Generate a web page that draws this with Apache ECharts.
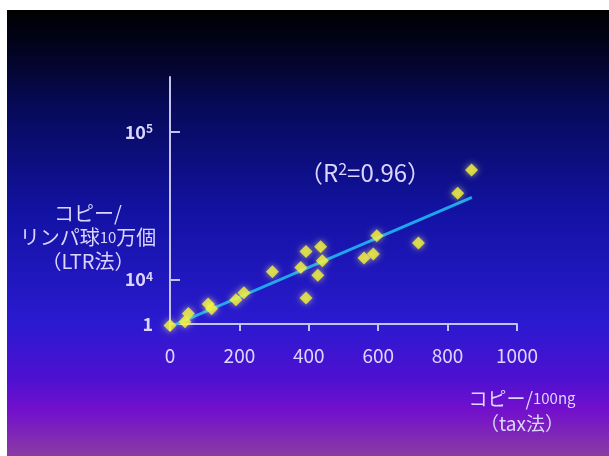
<!DOCTYPE html>
<html>
<head>
<meta charset="utf-8">
<script src="https://cdn.jsdelivr.net/npm/echarts@6/dist/echarts.min.js"></script>
<style>
  html, body { margin: 0; padding: 0; background: #fff; }
  #chart { width: 609px; height: 456px; }
</style>
</head>
<body>
<div id="chart"></div>
<script>
// tax copies / 100ng
var taxCopies = [0, 43, 53, 110, 120, 190, 213, 295, 377, 392, 392, 426, 434, 439, 559, 586, 596, 716, 829, 869];
// LTR copies / 100,000 lymphocytes
var ltrCopies = [4900, 5200, 5900, 6850, 6350, 7300, 8150, 11300, 12100, 15500, 7500, 10700, 16700, 13400, 14000, 14900, 19800, 17700, 38300, 55100];
// regression line end points
var fitX = [0, 870];
var fitY = [4800, 36000];
// y axis ticks (log10 units) and their labels
var yTickLogs = [3.7, 4, 5];
var yTickTexts = ['1', '10{s|4}', '10{s|5}'];
var xTicks = [0, 200, 400, 600, 800, 1000];

var textColor = '#dcd6ff';
var axisColor = '#c6c2f0';
var font = '"Noto Sans CJK JP", "Noto Sans", sans-serif';

var chart = echarts.init(document.getElementById('chart'));

var points = taxCopies.map(function (x, i) {
    return [x, Math.log10(ltrCopies[i])];
});
var fitLine = fitX.map(function (x, i) {
    return [x, Math.log10(fitY[i])];
});

var option = {
    backgroundColor: '#ffffff',
    animation: false,
    graphic: [
        {
            type: 'rect',
            z: -100,
            shape: { x: 7, y: 10, width: 602, height: 446 },
            style: {
                fill: new echarts.graphic.LinearGradient(0, 0, 0, 1, [
                    { offset: 0, color: '#000000' },
                    { offset: 0.1, color: '#030425' },
                    { offset: 0.22, color: '#070a5a' },
                    { offset: 0.45, color: '#1212a2' },
                    { offset: 0.7, color: '#2a1ad0' },
                    { offset: 0.83, color: '#5010d0' },
                    { offset: 0.9, color: '#7410cc' },
                    { offset: 1, color: '#8a3ca2' }
                ])
            }
        },
        {
            type: 'text',
            x: 365,
            y: 173,
            style: {
                text: '（R{s|2}=0.96）',
                fill: textColor,
                font: '24px ' + font,
                align: 'center',
                verticalAlign: 'middle',
                rich: {
                    s: { fontSize: 16, verticalAlign: 'top', lineHeight: 16, fill: textColor, fontFamily: 'Noto Sans CJK JP' }
                }
            }
        },
        {
            type: 'text',
            x: 88,
            y: 201,
            style: {
                text: 'コピー/\nリンパ球{n|10}万個\n（LTR法）',
                fill: textColor,
                font: '20px ' + font,
                align: 'center',
                verticalAlign: 'top',
                lineHeight: 24,
                rich: {
                    n: { fontSize: 15, fill: textColor, fontFamily: 'Noto Sans CJK JP' }
                }
            }
        },
        {
            type: 'text',
            x: 522,
            y: 386,
            style: {
                text: 'コピー/{n|100ng}\n（tax法）',
                fill: textColor,
                font: '19px ' + font,
                align: 'center',
                verticalAlign: 'top',
                lineHeight: 25,
                rich: {
                    n: { fontSize: 15, fill: textColor, fontFamily: 'Noto Sans CJK JP' }
                }
            }
        }
    ],
    grid: { left: 170, right: 92, top: 77, bottom: 132 },
    xAxis: {
        type: 'value',
        min: 0,
        max: 1000,
        interval: 200,
        splitLine: { show: false },
        axisLine: { lineStyle: { color: axisColor, width: 2 } },
        axisTick: { length: 7, lineStyle: { color: axisColor, width: 2 } },
        axisLabel: {
            margin: 22,
            color: textColor,
            fontSize: 19,
            fontFamily: font,
            customValues: xTicks,
            formatter: function (v) { return String(v); }
        }
    },
    yAxis: {
        type: 'value',
        min: 3.7,
        max: 5.37,
        splitLine: { show: false },
        axisLine: { lineStyle: { color: axisColor, width: 2 } },
        axisTick: {
            inside: true,
            length: 10,
            lineStyle: { color: axisColor, width: 2 },
            customValues: [4, 5]
        },
        axisLabel: {
            margin: 17,
            color: textColor,
            fontSize: 18,
            fontWeight: 'bold',
            fontFamily: font,
            customValues: yTickLogs,
            formatter: function (v) {
                var i = yTickLogs.indexOf(v);
                return i >= 0 ? yTickTexts[i] : '';
            },
            rich: {
                s: { fontSize: 12, verticalAlign: 'top', lineHeight: 12, color: textColor, fontWeight: 'bold' }
            }
        }
    },
    series: [
        {
            type: 'line',
            data: fitLine,
            symbol: 'none',
            z: 2,
            lineStyle: { color: '#1ea6ec', width: 3 },
            silent: true
        },
        {
            type: 'scatter',
            data: points,
            symbol: 'diamond',
            symbolSize: 13,
            clip: false,
            z: 3,
            itemStyle: {
                color: '#f4f43a',
                shadowColor: 'rgba(255,255,120,0.8)',
                shadowBlur: 6
            }
        }
    ]
};

chart.setOption(option);
</script>
</body>
</html>
